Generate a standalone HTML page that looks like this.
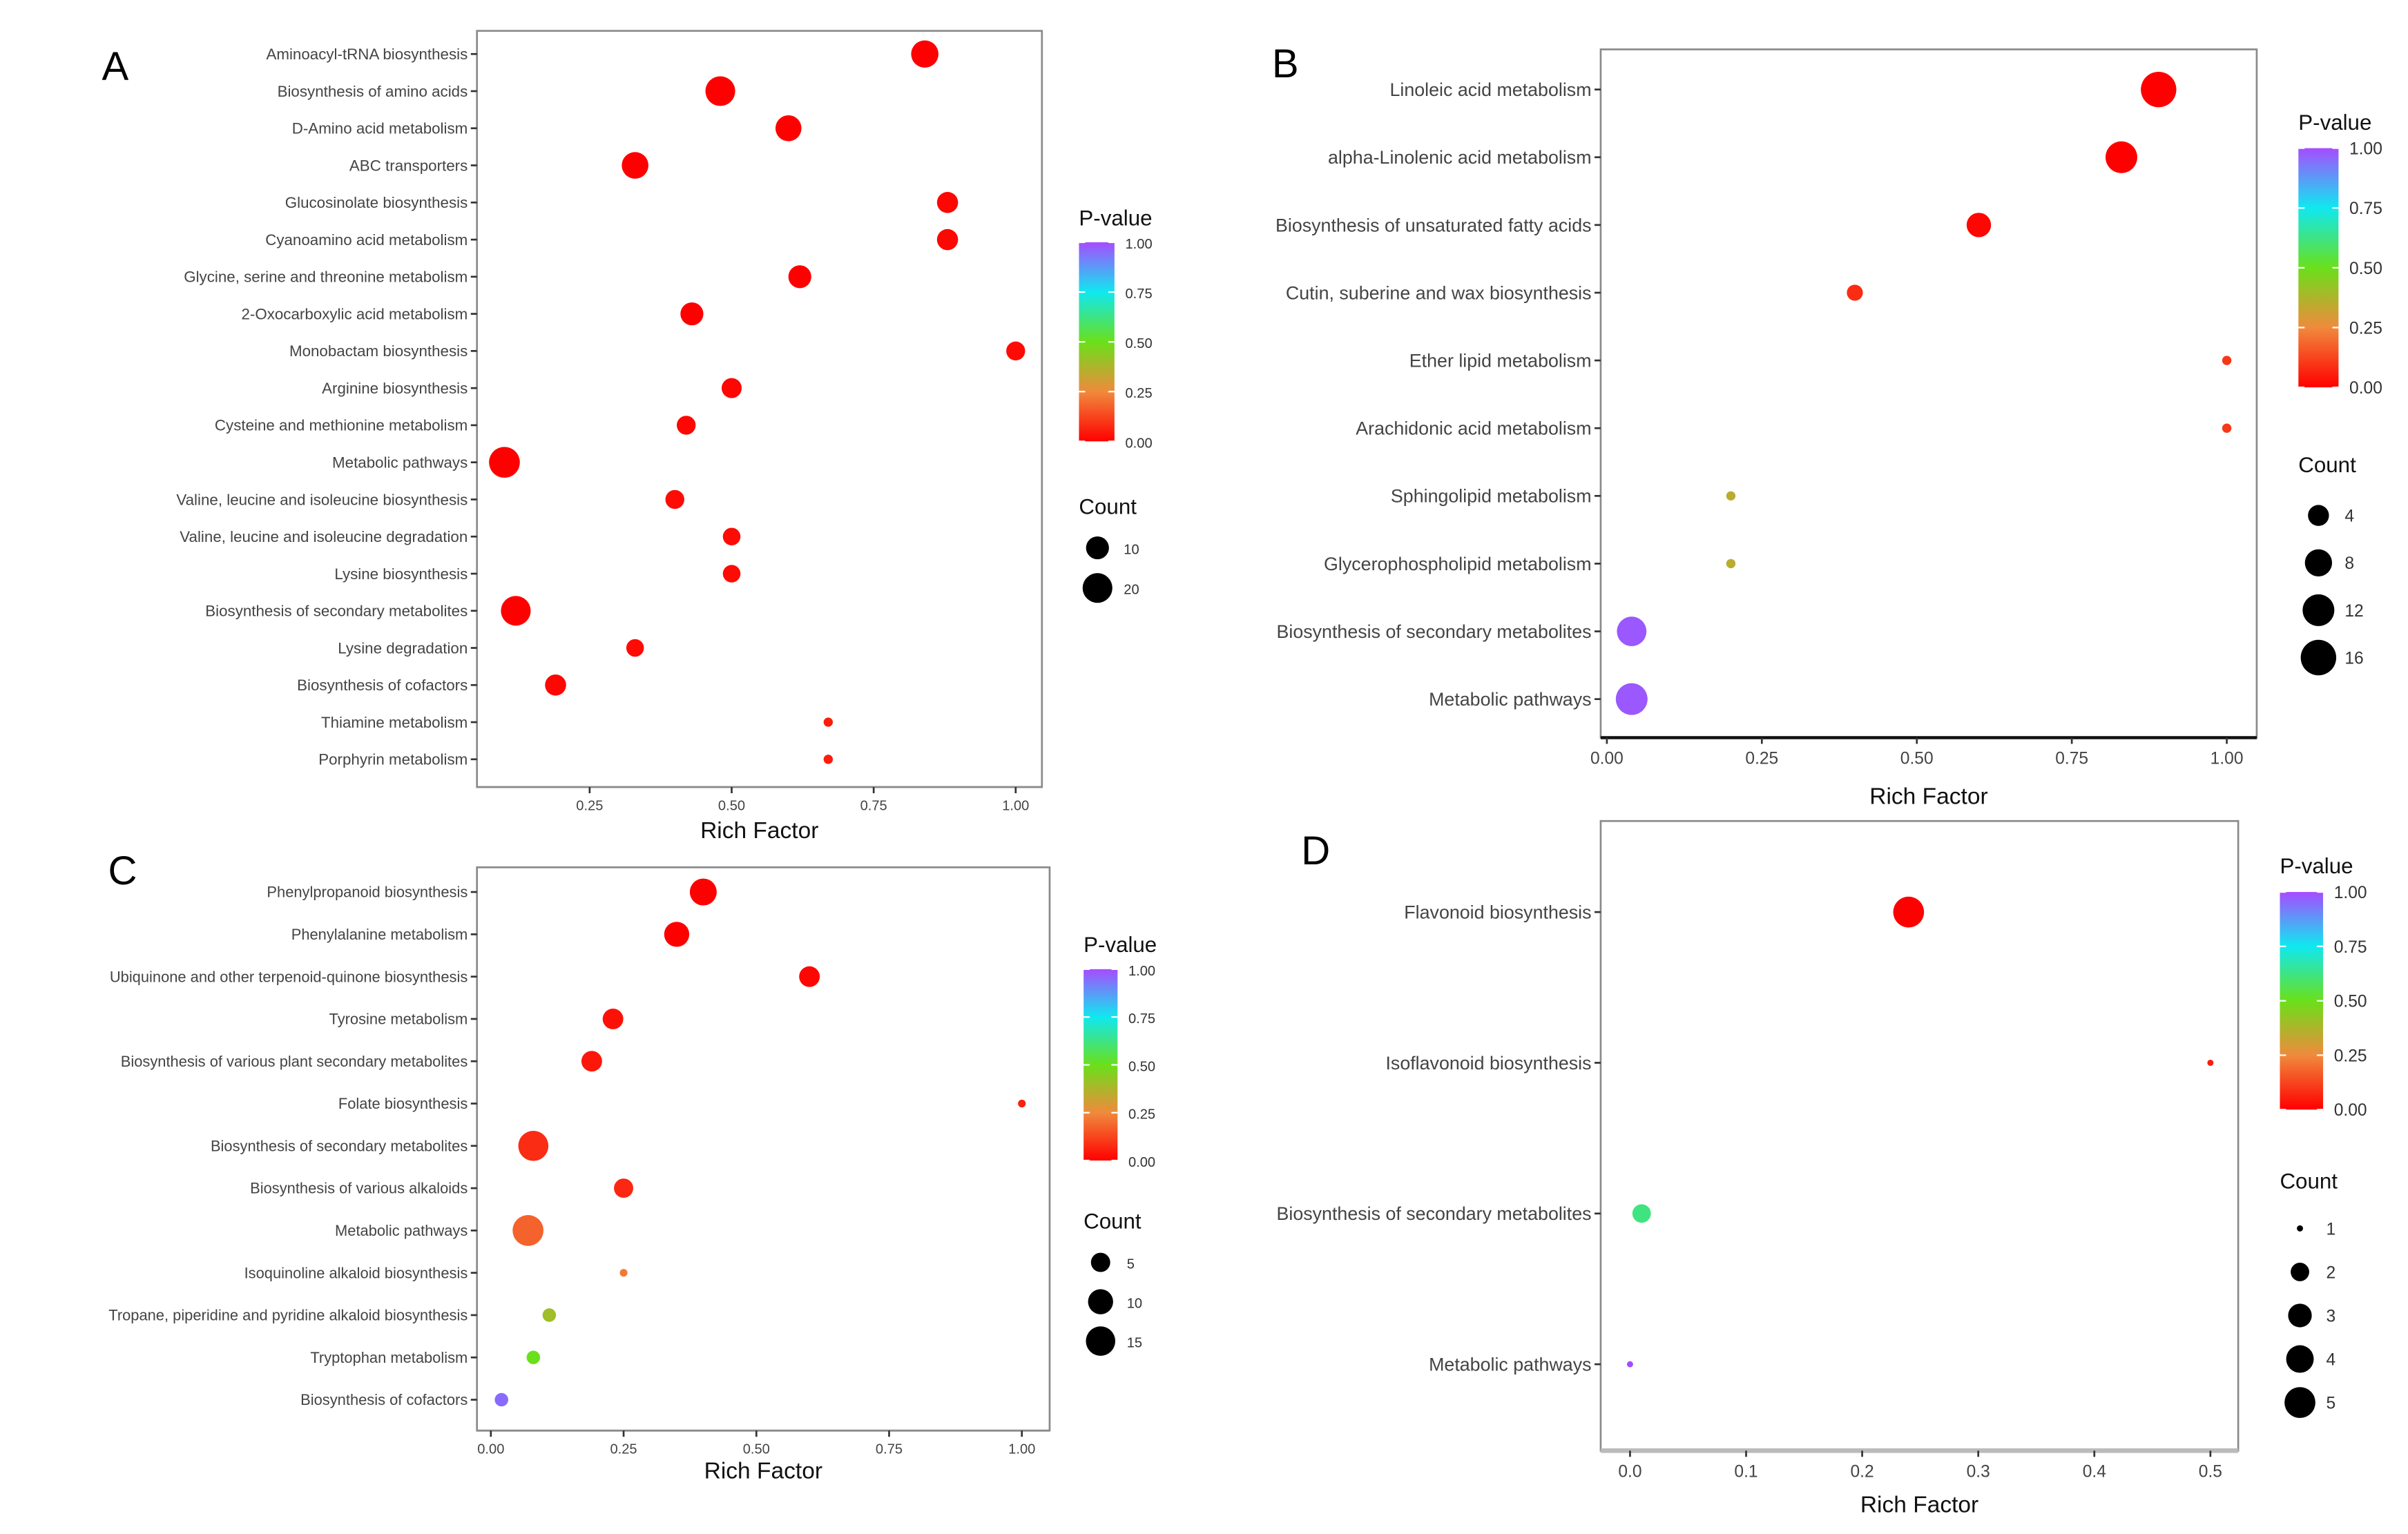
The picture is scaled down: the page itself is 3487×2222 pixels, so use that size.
<!DOCTYPE html>
<html><head><meta charset="utf-8"><style>
html,body{margin:0;padding:0;background:#fff;}
svg{display:block;}
text{font-family:"Liberation Sans",sans-serif;}
</style></head><body>
<svg id="fig" xmlns="http://www.w3.org/2000/svg" width="3487" height="2222" viewBox="0 0 1560 994" preserveAspectRatio="none"></svg>
<script>
// ---- Panel A data ----
const catsA = ["Aminoacyl-tRNA biosynthesis","Biosynthesis of amino acids","D-Amino acid metabolism","ABC transporters","Glucosinolate biosynthesis","Cyanoamino acid metabolism","Glycine, serine and threonine metabolism","2-Oxocarboxylic acid metabolism","Monobactam biosynthesis","Arginine biosynthesis","Cysteine and methionine metabolism","Metabolic pathways","Valine, leucine and isoleucine biosynthesis","Valine, leucine and isoleucine degradation","Lysine biosynthesis","Biosynthesis of secondary metabolites","Lysine degradation","Biosynthesis of cofactors","Thiamine metabolism","Porphyrin metabolism"];
const richA = [0.84,0.48,0.60,0.33,0.88,0.88,0.62,0.43,1.00,0.50,0.42,0.10,0.40,0.50,0.50,0.12,0.33,0.19,0.67,0.67];
const countA = [16,20,14,15,8,8,10,10,6,7,6,22,6,5,5,20,5,8,2,2];
const pvalA = [0,0,0,0,0.01,0.01,0,0,0.02,0.01,0.01,0,0.02,0.02,0.02,0,0.02,0.01,0.05,0.05];
const ticksA = [0.25,0.50,0.75,1.00];
const legCountA = [10,20];
// ---- Panel B data ----
const catsB = ["Linoleic acid metabolism","alpha-Linolenic acid metabolism","Biosynthesis of unsaturated fatty acids","Cutin, suberine and wax biosynthesis","Ether lipid metabolism","Arachidonic acid metabolism","Sphingolipid metabolism","Glycerophospholipid metabolism","Biosynthesis of secondary metabolites","Metabolic pathways"];
const richB = [0.89,0.83,0.60,0.40,1.00,1.00,0.20,0.20,0.04,0.04];
const countB = [16,12,6,2,1,1,1,1,10,12];
const pvalB = [0,0,0.01,0.08,0.1,0.1,0.35,0.35,0.98,0.98];
const ticksB = [0,0.25,0.50,0.75,1.00];
const legCountB = [4,8,12,16];
// ---- Panel C data ----
const catsC = ["Phenylpropanoid biosynthesis","Phenylalanine metabolism","Ubiquinone and other terpenoid-quinone biosynthesis","Tyrosine metabolism","Biosynthesis of various plant secondary metabolites","Folate biosynthesis","Biosynthesis of secondary metabolites","Biosynthesis of various alkaloids","Metabolic pathways","Isoquinoline alkaloid biosynthesis","Tropane, piperidine and pyridine alkaloid biosynthesis","Tryptophan metabolism","Biosynthesis of cofactors"];
const richC = [0.40,0.35,0.60,0.23,0.19,1.00,0.08,0.25,0.07,0.25,0.11,0.08,0.02];
const countC = [12,10,6,6,6,1,16,5,17,1,2,2,2];
const pvalC = [0,0,0.01,0.03,0.04,0.06,0.08,0.07,0.18,0.22,0.40,0.50,0.95];
const ticksC = [0,0.25,0.50,0.75,1.00];
const legCountC = [5,10,15];
// ---- Panel D data ----
const catsD = ["Flavonoid biosynthesis","Isoflavonoid biosynthesis","Biosynthesis of secondary metabolites","Metabolic pathways"];
const richD = [0.24,0.50,0.01,0.00];
const countD = [5,1,2,1];
const pvalD = [0,0.05,0.62,1.0];
const ticksD = [0,0.1,0.2,0.3,0.4,0.5];
const legCountD = [1,2,3,4,5];
const legP = [1.00,0.75,0.50,0.25,0.00];

const NS="http://www.w3.org/2000/svg";
const svg=document.getElementById('fig');
function mk(tag,attrs,parent,txt){const e=document.createElementNS(NS,tag);for(const k in attrs)e.setAttribute(k,attrs[k]);if(txt!==undefined)e.textContent=txt;(parent||svg).appendChild(e);return e;}
const stops=[[0,[255,0,0]],[0.25,[240,138,60]],[0.5,[106,224,26]],[0.75,[16,232,240]],[1,[166,76,255]]];
function pcol(p){for(let i=0;i<stops.length-1;i++){const a=stops[i],b=stops[i+1];if(p<=b[0]){const t=(p-a[0])/(b[0]-a[0]);const c=a[1].map((v,j)=>Math.round(v+(b[1][j]-v)*t));return `rgb(${c[0]},${c[1]},${c[2]})`;}}return 'rgb(166,76,255)';}

function panel(cfg,cats,rich,count,pval,ticks,legCount){
  const g=mk('g',{});
  
  
  const xs=v=>cfg.x0px+(v-cfg.v0)*cfg.pxPer;
  const ys=i=>cfg.yFirst+i*(cfg.yLast-cfg.yFirst)/(cats.length-1);
  const rs=c=>cfg.rmin+(cfg.rmax-cfg.rmin)*Math.sqrt(Math.max(0,(c-cfg.cmin)/(cfg.cmax-cfg.cmin)));
  const box=mk('rect',{x:cfg.L,y:cfg.T,width:cfg.R-cfg.L,height:cfg.B-cfg.T,fill:'#fff',stroke:'#8a8a8a','stroke-width':1.2},g);
  
  
  const ax=mk('line',{x1:cfg.L,x2:cfg.R,y1:cfg.B,y2:cfg.B,stroke:cfg.axisCol,'stroke-width':cfg.axisW},g);
  
  
  const lt=mk('text',{x:cfg.lx,y:cfg.ly,'font-size':26,'font-family':'Liberation Serif, serif'},g,cfg.id);
  
  
  cats.forEach((c,i)=>{
    const y=ys(i);
    mk('line',{x1:cfg.L-4,x2:cfg.L,y1:y,y2:y,stroke:'#333','stroke-width':1.2},g);
    const t=mk('text',{x:cfg.L-6,y:y+cfg.fs*0.35,'font-size':cfg.fs,'text-anchor':'end',fill:'#444'},g,c);
    
    
  });
  ticks.forEach(v=>{
    const x=xs(v);
    mk('line',{x1:x,x2:x,y1:cfg.B,y2:cfg.B+4,stroke:'#333','stroke-width':1.2},g);
    const t=mk('text',{x:x,y:cfg.B+cfg.tfs+6,'font-size':cfg.tfs,'text-anchor':'middle',fill:'#444'},g,cfg.dec?v.toFixed(cfg.dec):v.toFixed(1));
    
    
  });
  const at=mk('text',{x:(cfg.L+cfg.R)/2,y:cfg.axTitleY,'font-size':15,'text-anchor':'middle',fill:'#111'},g,'Rich Factor');
  
  
  cats.forEach((c,i)=>{
    const d=mk('circle',{cx:xs(rich[i]),cy:ys(i),r:rs(count[i]),fill:pcol(pval[i])},g);
    
    
  });
  const pt=mk('text',{x:cfg.legX,y:cfg.pTitleY,'font-size':14,fill:'#111'},g,'P-value');
  
  
  const gid='grad'+cfg.id;
  const defs=mk('defs',{},g);
  const lg=mk('linearGradient',{id:gid,x1:0,y1:1,x2:0,y2:0},defs);
  stops.forEach(s=>mk('stop',{offset:s[0],'stop-color':`rgb(${s[1].join(',')})`},lg));
  const bar=mk('rect',{x:cfg.legX,y:cfg.barT,width:cfg.barW,height:cfg.barB-cfg.barT,fill:`url(#${gid})`},g);
  
  
  legP.forEach(v=>{
    const y=cfg.barB-v*(cfg.barB-cfg.barT);
    mk('line',{x1:cfg.legX,x2:cfg.legX+4,y1:y,y2:y,stroke:'#fff','stroke-width':1},g);
    mk('line',{x1:cfg.legX+cfg.barW-4,x2:cfg.legX+cfg.barW,y1:y,y2:y,stroke:'#fff','stroke-width':1},g);
    const t=mk('text',{x:cfg.legX+cfg.barW+7,y:y+4,'font-size':cfg.lfs,fill:'#333'},g,v.toFixed(2));
    
    
  });
  const ct=mk('text',{x:cfg.legX,y:cfg.cTitleY,'font-size':14,fill:'#111'},g,'Count');
  
  
  legCount.forEach((c,i)=>{
    const y=cfg.cFirst+i*cfg.cStep;
    const d=mk('circle',{cx:cfg.legX+cfg.cDx,cy:y,r:rs(c),fill:'#000'},g);
    
    
    const t=mk('text',{x:cfg.legX+cfg.cDx+17,y:y+4,'font-size':cfg.lfs,fill:'#333'},g,String(c));
    
    
  });
}

panel({id:'A',L:309,R:675,T:20,B:510,x0px:290,v0:0,pxPer:368,yFirst:35,yLast:492,fs:10,tfs:9,dec:2,axTitleY:543,
  lx:66,ly:52,axisCol:'#8a8a8a',axisW:1.2,rmin:3,rmax:10,cmin:2,cmax:22,
  legX:699,pTitleY:146,barT:157,barB:286,barW:23,lfs:9,cTitleY:333,cFirst:355,cStep:26,cDx:12},catsA,richA,countA,pvalA,ticksA,legCountA);
panel({id:'B',L:1037,R:1462,T:32,B:478,x0px:1041,v0:0,pxPer:401.6,yFirst:58,yLast:453,fs:12,tfs:11,dec:2,axTitleY:521,
  lx:824,ly:50,axisCol:'#111',axisW:2,rmin:3,rmax:11.5,cmin:1,cmax:16,
  legX:1489,pTitleY:84,barT:96,barB:251,barW:26,lfs:11,cTitleY:306,cFirst:334,cStep:30.7,cDx:13},catsB,richB,countB,pvalB,ticksB,legCountB);
panel({id:'C',L:309,R:680,T:562,B:927,x0px:318,v0:0,pxPer:344,yFirst:578,yLast:907,fs:9.8,tfs:9,dec:2,axTitleY:958,
  lx:70,ly:573,axisCol:'#8a8a8a',axisW:1.2,rmin:2.5,rmax:10,cmin:1,cmax:17,
  legX:702,pTitleY:617,barT:628,barB:752,barW:22,lfs:9,cTitleY:796,cFirst:818,cStep:25.5,cDx:11},catsC,richC,countC,pvalC,ticksC,legCountC);
panel({id:'D',L:1037,R:1450,T:532,B:940,x0px:1056,v0:0,pxPer:752,yFirst:591,yLast:884,fs:12,tfs:11,dec:1,axTitleY:980,
  lx:843,ly:560,axisCol:'#bbb',axisW:3,rmin:2,rmax:10,cmin:1,cmax:5,
  legX:1477,pTitleY:566,barT:578,barB:719,barW:28,lfs:11,cTitleY:770,cFirst:796,cStep:28.2,cDx:13},catsD,richD,countD,pvalD,ticksD,legCountD);
</script>
</body></html>
